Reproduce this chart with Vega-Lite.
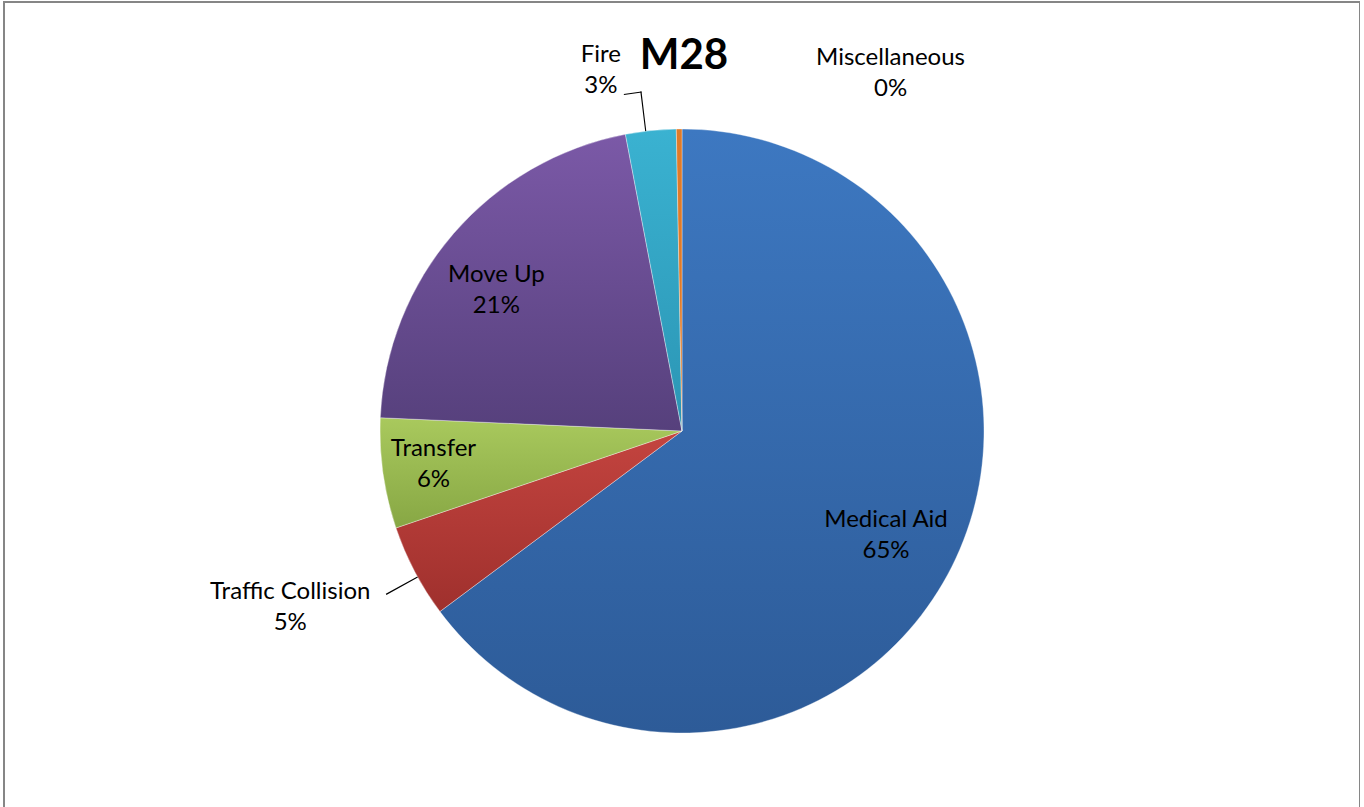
{
  "$schema": "https://vega.github.io/schema/vega-lite/v6.json",
  "autosize": {"type": "none"},
  "padding": {"left": 4, "top": 2, "right": 0, "bottom": 0},
  "width": 1356,
  "height": 858,
  "background": "#ffffff",
  "view": {"stroke": "#868686", "strokeWidth": 2},
  "config": {
    "view": {"stroke": "#868686", "strokeWidth": 2},
    "text": {"font": "Lato"}
  },
  "title": {
    "text": "M28",
    "font": "Lato",
    "fontSize": 42,
    "fontWeight": "bold",
    "color": "#000000",
    "anchor": "middle",
    "frame": "group",
    "baseline": "alphabetic",
    "offset": -155,
    "dx": 2
  },
  "data": {
    "values": [
      {"rank": 1, "cat": "Medical Aid", "value": 64.8, "label": "Medical Aid\n65%"},
      {"rank": 2, "cat": "Traffic Collision", "value": 5.0, "label": "Traffic Collision\n5%"},
      {"rank": 3, "cat": "Transfer", "value": 5.9, "label": "Transfer\n6%"},
      {"rank": 4, "cat": "Move Up", "value": 21.3, "label": "Move Up\n21%"},
      {"rank": 5, "cat": "Fire", "value": 2.7, "label": "Fire\n3%"},
      {"rank": 6, "cat": "Miscellaneous", "value": 0.3, "label": "Miscellaneous\n0%"}
    ]
  },
  "encoding": {
    "theta": {"field": "value", "type": "quantitative", "stack": true},
    "order": {"field": "rank", "type": "quantitative"}
  },
  "layer": [
    {
      "mark": {"type": "arc", "radius": 302, "stroke": "#ffffff", "strokeOpacity": 0.35, "strokeWidth": 1},
      "encoding": {
        "fill": {
          "condition": [
            {"test": "datum.cat === 'Medical Aid'", "value": {"gradient": "linear", "x1": 0, "y1": 0, "x2": 0, "y2": 1, "stops": [{"offset": 0, "color": "#3d78c1"}, {"offset": 1, "color": "#2d5b98"}]}},
            {"test": "datum.cat === 'Traffic Collision'", "value": {"gradient": "linear", "x1": 0, "y1": 0, "x2": 0, "y2": 1, "stops": [{"offset": 0, "color": "#c4443f"}, {"offset": 1, "color": "#9f302d"}]}},
            {"test": "datum.cat === 'Transfer'", "value": {"gradient": "linear", "x1": 0, "y1": 0, "x2": 0, "y2": 1, "stops": [{"offset": 0, "color": "#a9c95d"}, {"offset": 1, "color": "#87a744"}]}},
            {"test": "datum.cat === 'Move Up'", "value": {"gradient": "linear", "x1": 0, "y1": 0, "x2": 0, "y2": 1, "stops": [{"offset": 0, "color": "#7b59a7"}, {"offset": 1, "color": "#56407c"}]}},
            {"test": "datum.cat === 'Fire'", "value": {"gradient": "linear", "x1": 0, "y1": 0, "x2": 0, "y2": 1, "stops": [{"offset": 0, "color": "#3ab2d1"}, {"offset": 1, "color": "#2b95b4"}]}},
            {"test": "datum.cat === 'Miscellaneous'", "value": "#e07b29"}
          ],
          "value": "#999999"
        }
      }
    },
    {
      "transform": [
        {"stack": "value", "groupby": [], "sort": [{"field": "rank", "order": "ascending"}], "as": ["s0", "s1"]},
        {"filter": "datum.cat === 'Traffic Collision'"}
      ],
      "mark": {"type": "arc", "radius": 338, "radius2": 302, "thetaOffset": 0.1347, "theta2Offset": -0.1759, "fill": "#000000"},
      "encoding": {
        "theta": {"field": "s0", "type": "quantitative", "stack": null},
        "theta2": {"field": "s1"}
      }
    },
    {
      "transform": [
        {"stack": "value", "groupby": [], "sort": [{"field": "rank", "order": "ascending"}], "as": ["s0", "s1"]},
        {"filter": "datum.cat === 'Fire'"}
      ],
      "mark": {"type": "arc", "radius": 342, "radius2": 302, "thetaOffset": 0.0663, "theta2Offset": -0.0998, "fill": "#000000"},
      "encoding": {
        "theta": {"field": "s0", "type": "quantitative", "stack": null},
        "theta2": {"field": "s1"}
      }
    },
    {
      "transform": [
        {"stack": "value", "groupby": [], "sort": [{"field": "rank", "order": "ascending"}], "as": ["s0", "s1"]},
        {"filter": "datum.cat === 'Fire'"}
      ],
      "mark": {"type": "arc", "radius": 342, "radius2": 341, "thetaOffset": 0.01745, "theta2Offset": -0.0998, "fill": "#000000"},
      "encoding": {
        "theta": {"field": "s0", "type": "quantitative", "stack": null},
        "theta2": {"field": "s1"}
      }
    },
    {
      "mark": {"type": "text", "radius": 226, "dx": 2, "dy": -5, "align": "center", "baseline": "alphabetic", "font": "Lato", "fontSize": 24, "lineBreak": "\n", "lineHeight": 31, "color": "#000000"},
      "encoding": {"text": {"condition": {"test": "datum.cat === 'Medical Aid'", "field": "label", "type": "nominal"}, "value": ""}}
    },
    {
      "mark": {"type": "text", "radius": 237.5, "dx": -6, "dy": 6, "align": "center", "baseline": "alphabetic", "font": "Lato", "fontSize": 24, "lineBreak": "\n", "lineHeight": 31, "color": "#000000"},
      "encoding": {"text": {"condition": {"test": "datum.cat === 'Move Up'", "field": "label", "type": "nominal"}, "value": ""}}
    },
    {
      "mark": {"type": "text", "radius": 248, "dx": -3, "dy": -10, "align": "center", "baseline": "alphabetic", "font": "Lato", "fontSize": 24, "lineBreak": "\n", "lineHeight": 31, "color": "#000000"},
      "encoding": {"text": {"condition": {"test": "datum.cat === 'Transfer'", "field": "label", "type": "nominal"}, "value": ""}}
    },
    {
      "mark": {"type": "text", "radius": 425.6, "dx": -15, "dy": -30, "align": "center", "baseline": "alphabetic", "font": "Lato", "fontSize": 24, "lineBreak": "\n", "lineHeight": 31, "color": "#000000"},
      "encoding": {"text": {"condition": {"test": "datum.cat === 'Traffic Collision'", "field": "label", "type": "nominal"}, "value": ""}}
    },
    {
      "mark": {"type": "text", "radius": 377.6, "dx": -42, "dy": 6.5, "align": "center", "baseline": "alphabetic", "font": "Lato", "fontSize": 24, "lineBreak": "\n", "lineHeight": 31, "color": "#000000"},
      "encoding": {"text": {"condition": {"test": "datum.cat === 'Fire'", "field": "label", "type": "nominal"}, "value": ""}}
    },
    {
      "mark": {"type": "text", "radius": 366, "dx": 212, "dy": 0, "align": "center", "baseline": "alphabetic", "font": "Lato", "fontSize": 24, "lineBreak": "\n", "lineHeight": 31, "color": "#000000"},
      "encoding": {"text": {"condition": {"test": "datum.cat === 'Miscellaneous'", "field": "label", "type": "nominal"}, "value": ""}}
    }
  ]
}
